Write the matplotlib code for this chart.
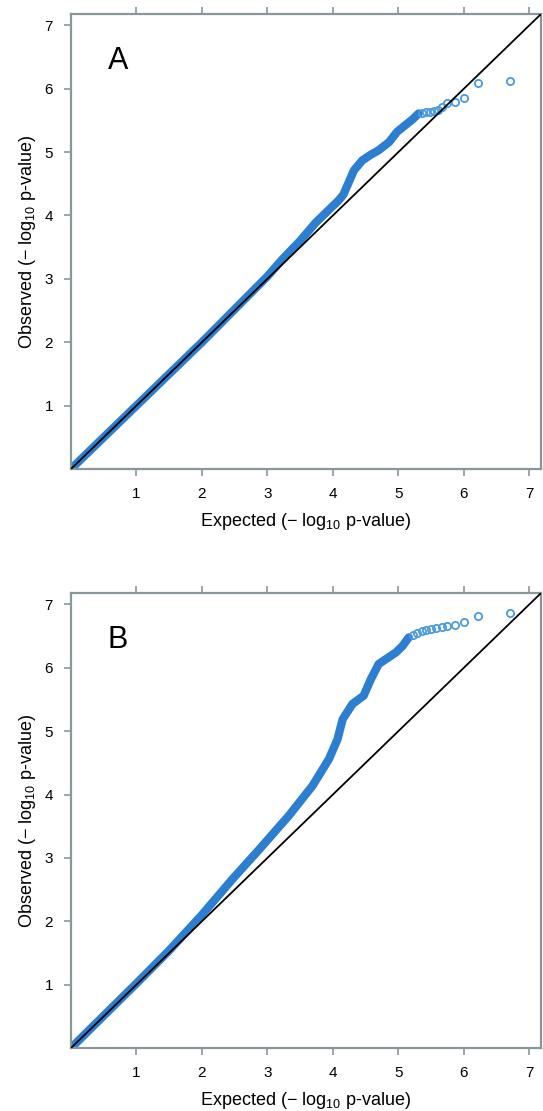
import numpy as np
import matplotlib.pyplot as plt

plt.rcParams['font.family'] = ['Liberation Sans', 'DejaVu Sans']
plt.rcParams['mathtext.default'] = 'regular'

# QQ curves, expected vs observed -log10 p-values
# panel A: dense part of the curve
a_exp = [0.0, 0.5, 1.0, 1.5, 2.0, 2.5, 3.0, 3.23, 3.5, 3.74, 4.0, 4.09, 4.16,
         4.22, 4.32, 4.45, 4.58, 4.70, 4.86, 4.98, 5.10, 5.22, 5.31]
a_obs = [0.0, 0.5, 1.0, 1.5, 2.0, 2.52, 3.04, 3.31, 3.6, 3.89, 4.15, 4.24, 4.33,
         4.47, 4.71, 4.87, 4.96, 5.03, 5.16, 5.32, 5.42, 5.52, 5.61]
# panel A: sparse tail, drawn as separate circles
a_tail_exp = [5.36, 5.42, 5.48, 5.54, 5.60, 5.66, 5.75, 5.86, 6.01, 6.22, 6.71]
a_tail_obs = [5.62, 5.63, 5.64, 5.65, 5.67, 5.72, 5.78, 5.79, 5.85, 6.09, 6.13]

# panel B
b_exp = [0.0, 0.5, 1.0, 1.5, 1.99, 2.47, 2.88, 3.33, 3.69, 3.94, 4.07, 4.15,
         4.30, 4.47, 4.58, 4.70, 4.80, 4.96, 5.06, 5.16]
b_obs = [0.0, 0.51, 1.02, 1.54, 2.09, 2.67, 3.14, 3.67, 4.14, 4.56, 4.87, 5.19,
         5.43, 5.56, 5.82, 6.06, 6.13, 6.24, 6.34, 6.48]
b_tail_exp = [5.22, 5.29, 5.36, 5.43, 5.50, 5.57, 5.67, 5.75, 5.87, 6.01, 6.22, 6.71]
b_tail_obs = [6.52, 6.55, 6.58, 6.60, 6.62, 6.63, 6.65, 6.66, 6.67, 6.73, 6.82, 6.86]

ticks = [1, 2, 3, 4, 5, 6, 7]
lim = 7.18

blue = '#2c7fd0'
ring = '#4b9be0'
frame = '#8a979a'

fig = plt.figure(figsize=(5.43, 11.11), dpi=100)
axes = [fig.add_axes([0.1308, 0.5779, 0.8656, 0.4095]),
        fig.add_axes([0.1308, 0.0567, 0.8656, 0.4095])]

panels = [('A', a_exp, a_obs, a_tail_exp, a_tail_obs),
          ('B', b_exp, b_obs, b_tail_exp, b_tail_obs)]

for ax, (tag, xe, yo, xt, yt) in zip(axes, panels):
    ax.plot(xe, yo, color=blue, lw=6, solid_capstyle='round', zorder=2)
    ax.plot(xt, yt, 'o', mfc='none', mec=ring, mew=1.3, ms=5.2, zorder=3)
    ax.plot([0, lim], [0, lim], color='black', lw=1.3, zorder=4)

    ax.set_xlim(0, lim)
    ax.set_ylim(0, lim)
    ax.set_xticks(ticks)
    ax.set_yticks(ticks)
    ax.tick_params(direction='out', length=5, width=1.2, color=frame,
                   labelsize=11, top=True, labeltop=False, pad=8)
    for s in ax.spines.values():
        s.set_color(frame)
        s.set_linewidth(1.6)

    ax.set_xlabel('Expected (\u2212 log$_{10}$ p-value)', fontsize=13, labelpad=7)
    ax.set_ylabel('Observed (\u2212 log$_{10}$ p-value)', fontsize=13, labelpad=5)
    ax.text(0.10, 0.897, tag, transform=ax.transAxes, fontsize=22,
            ha='center', va='center')

fig.savefig('out.png', dpi=100)
